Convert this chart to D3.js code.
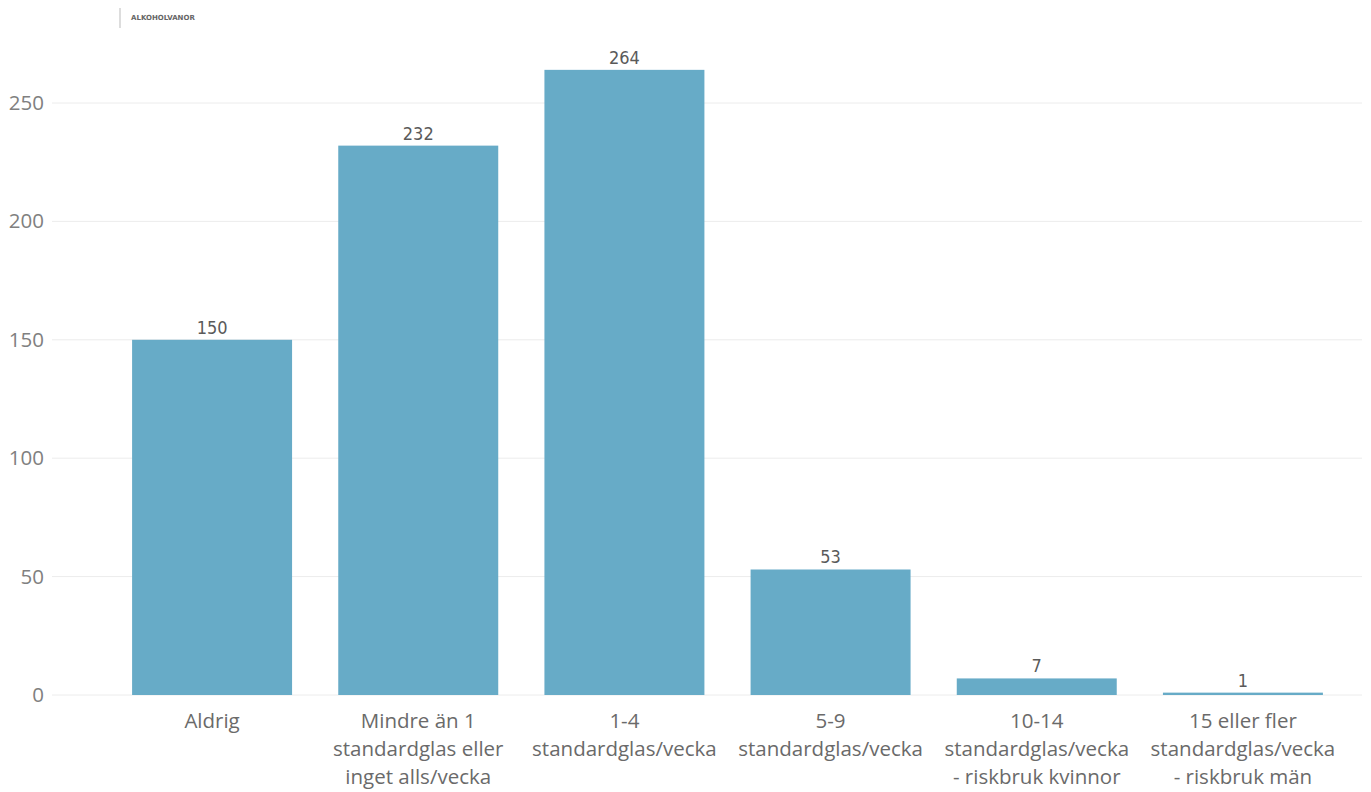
<!DOCTYPE html>
<html><head><meta charset="utf-8">
<script src="https://cdn.jsdelivr.net/npm/d3@7"></script>
<style>body{margin:0;background:#fff}</style>
</head><body>
<svg id="c" width="1371" height="792"></svg>
<script>
const categories = [
  ["Aldrig"],
  ["Mindre än 1","standardglas eller","inget alls/vecka"],
  ["1-4","standardglas/vecka"],
  ["5-9","standardglas/vecka"],
  ["10-14","standardglas/vecka","- riskbruk kvinnor"],
  ["15 eller fler","standardglas/vecka","- riskbruk män"]
];
const values = [150, 232, 264, 53, 7, 1];
const yTicks = [0, 50, 100, 150, 200, 250];
const title = "ALKOHOLVANOR";

const svg = d3.select("#c");
const x = d3.scaleBand().domain(d3.range(categories.length)).range([109, 1346]).paddingInner(0.224).paddingOuter(0.112);
const y = d3.scaleLinear().domain([0, 250]).range([695, 103]);

// gridlines
svg.append("g").selectAll("line").data(yTicks).join("line")
  .attr("x1", 52).attr("x2", 1362)
  .attr("y1", d => y(d)).attr("y2", d => y(d))
  .attr("stroke", "#ececec").attr("stroke-width", 1);

// y axis
const ya = svg.append("g").attr("transform", "translate(44,0)")
  .call(d3.axisLeft(y).tickValues(yTicks).tickSize(0).tickPadding(0));
ya.select(".domain").remove();
ya.selectAll("text").attr("font-family", "'Open Sans', sans-serif").attr("font-size", 20.5).attr("fill", "#808080");

// bars
svg.append("g").selectAll("rect").data(values).join("rect")
  .attr("x", (d, i) => x(i)).attr("width", x.bandwidth())
  .attr("y", d => y(d)).attr("height", d => Math.max(y(0) - y(d), 2))
  .attr("fill", "#67abc7");

// data labels
svg.append("g").selectAll("text").data(values).join("text")
  .attr("x", (d, i) => x(i) + x.bandwidth() / 2)
  .attr("y", d => y(d) - 6)
  .attr("text-anchor", "middle")
  .attr("font-family", "'DejaVu Sans Condensed', 'DejaVu Sans', sans-serif")
  .attr("font-size", 18).attr("fill", "#5a5a5a")
  .text(d => d);

// category labels
const cl = svg.append("g").selectAll("text").data(categories).join("text")
  .attr("text-anchor", "middle")
  .attr("font-family", "'Open Sans', sans-serif").attr("font-size", 20.5).attr("fill", "#6a6a6a");
cl.each(function(lines, i) {
  d3.select(this).selectAll("tspan").data(lines).join("tspan")
    .attr("x", x(i) + x.bandwidth() / 2)
    .attr("y", (l, j) => 728 + j * 28)
    .text(l => l);
});

// header
svg.append("line").attr("x1", 120).attr("x2", 120).attr("y1", 8).attr("y2", 28).attr("stroke", "#bbb").attr("stroke-width", 1);
svg.append("text").attr("x", 131).attr("y", 20).attr("font-family", "'DejaVu Sans', sans-serif")
  .attr("font-size", 7).attr("font-weight", "bold").attr("fill", "#666").text(title);
</script>
</body></html>
